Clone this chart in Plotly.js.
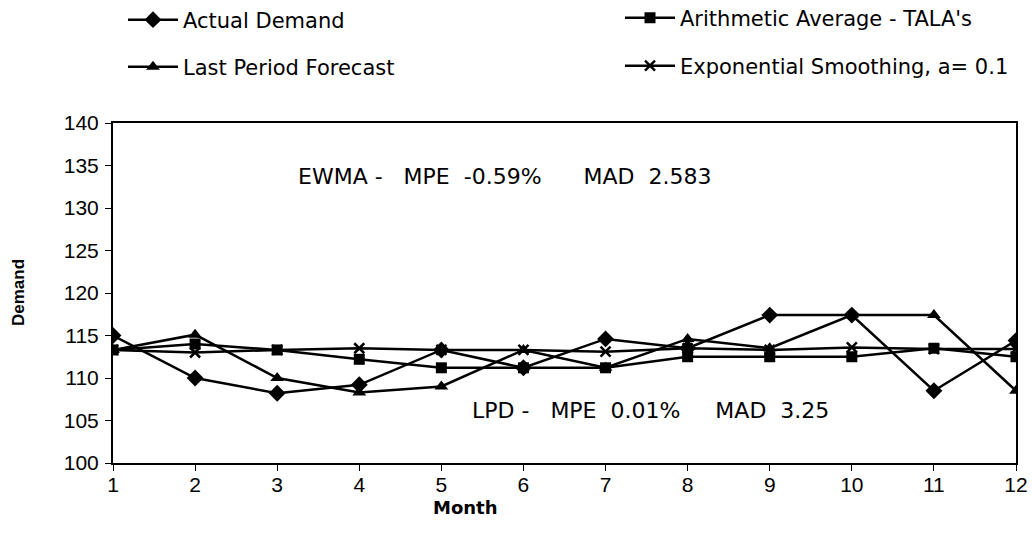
<!DOCTYPE html>
<html>
<head>
<meta charset="utf-8">
<script src="https://cdn.plot.ly/plotly-3.0.1.min.js"></script>
<style>
  html, body { margin: 0; padding: 0; background: #fff; }
  #chart { width: 1032px; height: 545px; }
</style>
</head>
<body>
<div id="chart"></div>
<script>
// Monthly demand and three forecasting methods
const months = [1, 2, 3, 4, 5, 6, 7, 8, 9, 10, 11, 12];
const actualDemand = [115, 110, 108.2, 109.2, 113.3, 111.2, 114.6, 113.5, 117.4, 117.4, 108.5, 114.4];
const arithmeticAverage = [113.3, 114, 113.3, 112.2, 111.2, 111.2, 111.2, 112.5, 112.5, 112.5, 113.5, 112.5];
const lastPeriodForecast = [113.3, 115.1, 110, 108.3, 109, 113.3, 111.2, 114.6, 113.5, 117.4, 117.4, 108.5];
const expSmoothing = [113.3, 113.0, 113.3, 113.5, 113.3, 113.3, 113.1, 113.5, 113.3, 113.6, 113.4, 113.4];

const seriesNames = [
  'Actual Demand',
  "Arithmetic Average - TALA's",
  'Last Period Forecast',
  'Exponential Smoothing, a= 0.1'
];
const yTickLabels = ['100', '105', '110', '115', '120', '125', '130', '135', '140'];
const xTitle = 'Month';
const yTitle = 'Demand';
const ewmaNote = 'EWMA -\u00a0\u00a0 MPE\u00a0 -0.59%\u00a0\u00a0\u00a0\u00a0\u00a0 MAD\u00a0 2.583';
const lpdNote = 'LPD -\u00a0\u00a0 MPE\u00a0 0.01%\u00a0\u00a0\u00a0\u00a0 MAD\u00a0 3.25';

const W = 1032, H = 545;
const M = { l: 113, r: 16, t: 123, b: 82, autoexpand: false };
const plotW = W - M.l - M.r, plotH = H - M.t - M.b;
const px = x => (x - M.l) / plotW;         // pixel column -> paper x
const py = y => (H - M.b - y) / plotH;     // pixel row -> paper y

function series(y, name, symbol, size, legendId) {
  return {
    x: months, y: y, name: name, type: 'scatter', mode: 'lines+markers',
    line: { color: '#000', width: 2.5 },
    marker: { symbol: symbol, size: size, color: '#000', line: { color: '#000', width: symbol === 'x-thin' ? 2.5 : 0 } },
    legend: legendId, showlegend: true
  };
}

const traces = [
  series(expSmoothing, seriesNames[3], 'x-thin', 10, 'legend4'),
  series(arithmeticAverage, seriesNames[1], 'square', 11, 'legend2'),
  series(lastPeriodForecast, seriesNames[2], 'triangle-up', 12, 'legend3'),
  series(actualDemand, seriesNames[0], 'diamond', 13, 'legend')
];

const legendFont = { family: 'DejaVu Sans', size: 21, color: '#000' };
function legendAt(xPix, yPix) {
  return {
    x: px(xPix), y: py(yPix), xanchor: 'left', yanchor: 'middle',
    bgcolor: 'rgba(0,0,0,0)', borderwidth: 0, font: legendFont,
    itemwidth: 50, itemclick: false, itemdoubleclick: false
  };
}

const tickFont = { family: 'Liberation Sans', size: 21, color: '#000' };

const layout = {
  width: W, height: H,
  margin: M,
  paper_bgcolor: '#fff', plot_bgcolor: '#fff',
  font: { family: 'Liberation Sans, Arial, sans-serif', color: '#000' },
  showlegend: true,
  legend: legendAt(123, 20),
  legend2: legendAt(620, 18),
  legend3: legendAt(123, 67),
  legend4: legendAt(620, 66),
  xaxis: {
    range: [1, 12], tickmode: 'array', tickvals: months, ticktext: months.map(String),
    showline: true, linecolor: '#000', linewidth: 2, mirror: true,
    ticks: 'outside', ticklen: 6, tickwidth: 1, tickcolor: '#000',
    ticklabelstandoff: -4,
    showgrid: false, zeroline: false, tickfont: tickFont
  },
  yaxis: {
    range: [100, 140], tickmode: 'array',
    tickvals: yTickLabels.map(Number), ticktext: yTickLabels,
    showline: true, linecolor: '#000', linewidth: 2, mirror: true,
    ticks: 'outside', ticklen: 6, tickwidth: 1, tickcolor: '#000',
    ticklabelstandoff: 2,
    showgrid: false, zeroline: false, tickfont: tickFont
  },
  annotations: [
    { text: ewmaNote, xref: 'paper', yref: 'paper', x: px(296), y: py(176), xanchor: 'left', yanchor: 'middle',
      showarrow: false, font: { family: 'DejaVu Sans', size: 22, color: '#000' } },
    { text: lpdNote, xref: 'paper', yref: 'paper', x: px(470), y: py(410), xanchor: 'left', yanchor: 'middle',
      showarrow: false, font: { family: 'DejaVu Sans', size: 22, color: '#000' } },
    // axis titles
    { text: '<b>' + xTitle + '</b>', xref: 'paper', yref: 'paper', x: px(465), y: py(507), xanchor: 'center', yanchor: 'middle',
      showarrow: false, font: { family: 'DejaVu Sans', size: 18, color: '#000' } },
    { text: '<b>' + yTitle + '</b>', xref: 'paper', yref: 'paper', x: px(18), y: py(293), xanchor: 'center', yanchor: 'middle',
      textangle: -90, showarrow: false, font: { family: 'Liberation Sans', size: 17, color: '#000' } }
  ]
};

Plotly.newPlot('chart', traces, layout, { displayModeBar: false, staticPlot: true });
</script>
</body>
</html>
